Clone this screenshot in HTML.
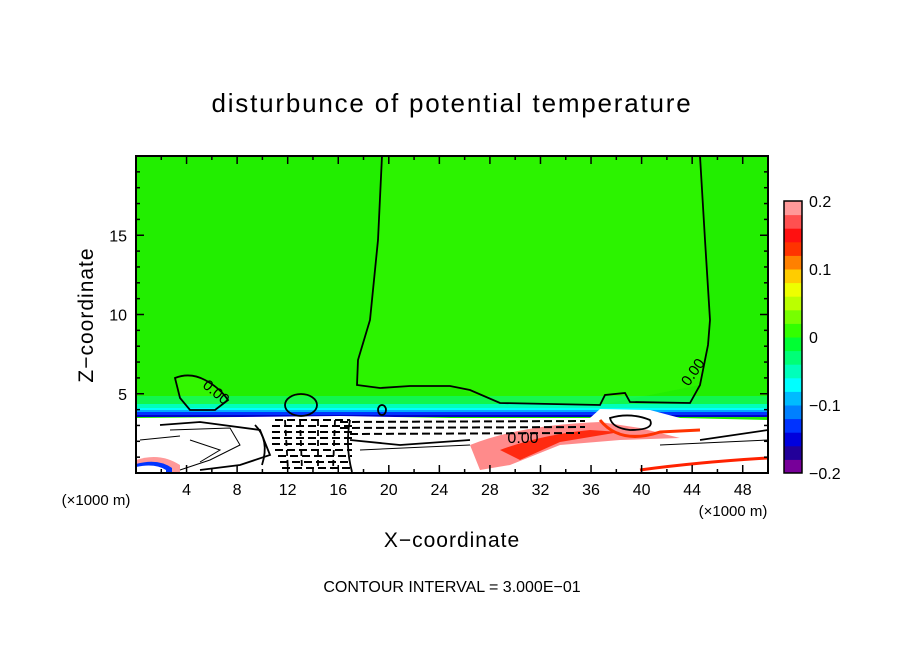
<!DOCTYPE html>
<html><head><meta charset="utf-8"><style>
body{margin:0;background:#fff;width:904px;height:654px;overflow:hidden}
text{font-family:"Liberation Sans",sans-serif;fill:#000}
</style></head><body>
<svg id="chart" width="904" height="654" viewBox="0 0 904 654" xmlns="http://www.w3.org/2000/svg">
<text x="452" y="112" font-size="26" text-anchor="middle" letter-spacing="1.8">disturbunce of potential temperature</text>
<defs><clipPath id="pc"><rect x="136" y="156" width="632" height="317"/></clipPath></defs>
<g id="plot" clip-path="url(#pc)">
<rect x="136" y="156" width="632" height="317" fill="#22ee00"/>
<path d="M382 156 L378 240 L370 320 L358 360 L357 385 L380 388 L410 386 L450 386 L500 403 L600 405 L700 385 L708 345 L710 320 L705 240 L700 156 Z" fill="#2cf300"/>
<path d="M175 378 Q190 372 205 380 Q220 388 228 400 L215 410 L190 410 L180 398 Z" fill="#33f600"/>
<ellipse cx="301" cy="405" rx="16" ry="11" fill="#33f600"/>
<rect x="136" y="396" width="632" height="10" fill="#00ff99" opacity="0.5"/>
<rect x="136" y="404" width="632" height="5" fill="#00ffbb"/>
<rect x="136" y="408" width="632" height="3" fill="#00ffff"/>
<rect x="136" y="410" width="632" height="3" fill="#00aaff"/>
<rect x="136" y="412" width="632" height="4" fill="#0033ff"/>
<rect x="136" y="415" width="632" height="2" fill="#0000cc"/>
<path d="M136 418 L340 416 L450 418 L590 418 L600 409 L650 410 L680 418 L768 420 L768 473 L136 473 Z" fill="#fff"/>
<path d="M470 445 Q520 425 600 422 L640 428 L680 438 L620 440 L560 445 L510 465 L480 470 Z" fill="#ff7777" opacity="0.85"/>
<path d="M500 450 Q540 435 590 430 L620 432 L560 442 L520 460 Z" fill="#ff2a10"/>
<path d="M600 420 Q620 445 660 432 L700 430" stroke="#ff3300" stroke-width="3" fill="none"/>
<path d="M640 470 Q700 462 768 458" stroke="#ff2200" stroke-width="3" fill="none"/>
<path d="M136 460 Q160 452 180 465 L180 473 L136 473 Z" fill="#ff9999"/>
<path d="M136 464 Q158 458 172 468 L172 473 L136 473 Z" fill="#0033ff"/>
<path d="M136 467 Q155 463 166 470 L166 473 L136 473 Z" fill="#fff"/>
<g stroke="#000" stroke-width="2" fill="none" stroke-dasharray="8 4">
<path d="M340 422 L585 421"/><path d="M340 428 L585 427"/><path d="M350 434 L580 433"/>
<path d="M275 420 L350 420"/><path d="M272 426 L352 426"/><path d="M272 432 L352 432"/><path d="M272 438 L352 438"/><path d="M272 444 L352 444"/><path d="M275 450 L352 450"/><path d="M278 456 L352 456"/><path d="M280 462 L352 462"/><path d="M282 468 L352 468"/>
</g>
<g stroke="#000" stroke-width="1.8" fill="none" stroke-dasharray="6 4">
<path d="M285 420 L288 470"/><path d="M300 420 L302 470"/><path d="M318 420 L318 470"/><path d="M335 420 L333 470"/>
</g>
<g stroke="#000" stroke-width="1.8" fill="none">
<path d="M382 156 L378 240 L370 320 L358 360 L357 385 L380 388 L410 386 L450 386 L470 390 L500 403 L600 405 L605 395 L625 393 L630 402 L690 403 L700 385 L708 345 L710 320 L705 240 L700 156"/>
<path d="M175 378 Q190 372 205 380 Q220 388 228 400 L215 410 L190 410 L180 398 Z"/>
<ellipse cx="301" cy="405" rx="16" ry="11"/>
<ellipse cx="382" cy="410" rx="4" ry="5"/>
<path d="M610 418 Q630 412 650 420 Q655 430 630 430 Q612 428 610 418 Z"/>
<path d="M160 425 L200 422 L260 430 L270 455 L240 465 L200 470"/>
<path d="M255 425 Q270 440 262 465"/>
<path d="M350 440 L400 445 L470 440"/>
<path d="M350 420 Q345 445 352 472"/>
<path d="M700 440 L768 430"/>
</g>
<g stroke="#000" stroke-width="1" fill="none">
<path d="M170 430 L230 428 L240 445 L210 460 L180 470"/><path d="M140 440 L180 436"/><path d="M360 450 L470 445"/><path d="M660 445 L768 440"/><path d="M190 440 L220 450 L200 462"/>
</g>
<text x="523" y="443" font-size="16" text-anchor="middle">0.00</text>
<text x="213" y="396" font-size="15" text-anchor="middle" transform="rotate(40 213 396)">0.00</text>
<text x="697" y="375" font-size="15" text-anchor="middle" transform="rotate(-55 697 375)">0.00</text>
</g>
<rect x="136" y="156" width="632" height="317" fill="none" stroke="#000" stroke-width="2"/>
<g id="axes"></g>
<g id="cbar"></g>
<text x="452" y="547" font-size="21" text-anchor="middle" letter-spacing="1">X−coordinate</text>
<text x="93" y="315" font-size="21" text-anchor="middle" letter-spacing="1" transform="rotate(-90 93 315)">Z−coordinate</text>
<text x="96" y="505" font-size="15" text-anchor="middle">(×1000 m)</text>
<text x="733" y="516" font-size="15" text-anchor="middle">(×1000 m)</text>
<text x="452" y="592" font-size="16" text-anchor="middle">CONTOUR INTERVAL = 3.000E−01</text>
</svg>
<script>
const xTicks=[4,8,12,16,20,24,28,32,36,40,44,48];
const yTicks=[5,10,15];
const cbColors=["#770099","#220099","#0000dd","#0033ff","#0080ff","#00bbff","#00ffff","#00ffbb","#00ff77","#00ff33","#33ff00","#77ff00","#bbff00","#eeff00","#ffcc00","#ff8000","#ff3300","#ff1010","#ff5050","#ff9999"];
const cbTicks=[-0.2,-0.1,0,0.1,0.2];
const cbTickLabels=["−0.2","−0.1","0","0.1","0.2"];
const NS="http://www.w3.org/2000/svg";
const X=v=>136+v*632/50, Y=v=>473-v*317/20;
function mk(t,a,p){const e=document.createElementNS(NS,t);for(const k in a)e.setAttribute(k,a[k]);p.appendChild(e);return e;}
const ax=document.getElementById('axes');
for(let v=1;v<50;v++){const big=v%4===0,mid=v%2===0;if(!mid)continue;const l=big?8:4;
 const a=mk('line',{x1:X(v),x2:X(v),y1:473,y2:473-l,stroke:'#000','stroke-width':1.5},ax);
 
 
 const b=mk('line',{x1:X(v),x2:X(v),y1:156,y2:156+l,stroke:'#000','stroke-width':1.5},ax);
 
 }
for(let v=1;v<20;v++){const l=v%5===0?8:4;
 const a=mk('line',{x1:136,x2:136+l,y1:Y(v),y2:Y(v),stroke:'#000','stroke-width':1.5},ax);
 
 
 const b=mk('line',{x1:768,x2:768-l,y1:Y(v),y2:Y(v),stroke:'#000','stroke-width':1.5},ax);
 
 }
xTicks.forEach(v=>{const t=mk('text',{x:X(v),y:495,'font-size':16,'text-anchor':'middle'},ax);t.textContent=v;
 
 });
yTicks.forEach(v=>{const t=mk('text',{x:127,y:Y(v)+6,'font-size':16,'text-anchor':'end'},ax);t.textContent=v;
 
 });
const cb=document.getElementById('cbar');
const cT=201,cB=473,cx=784,cw=18,C=v=>cB-(v+0.2)/0.4*(cB-cT);
cbColors.forEach((c,i)=>{const v0=-0.2+i*0.02;const r=mk('rect',{x:cx,y:C(v0+0.02),width:cw,height:C(v0)-C(v0+0.02)+0.5,fill:c},cb);
 
 });
const fr=mk('rect',{x:cx,y:cT,width:cw,height:cB-cT,fill:'none',stroke:'#000','stroke-width':1.5},cb);


cbTicks.forEach((v,i)=>{const t=mk('text',{x:809,y:C(v)+6,'font-size':16},cb);t.textContent=cbTickLabels[i];
 
 });
</script>
</body></html>
